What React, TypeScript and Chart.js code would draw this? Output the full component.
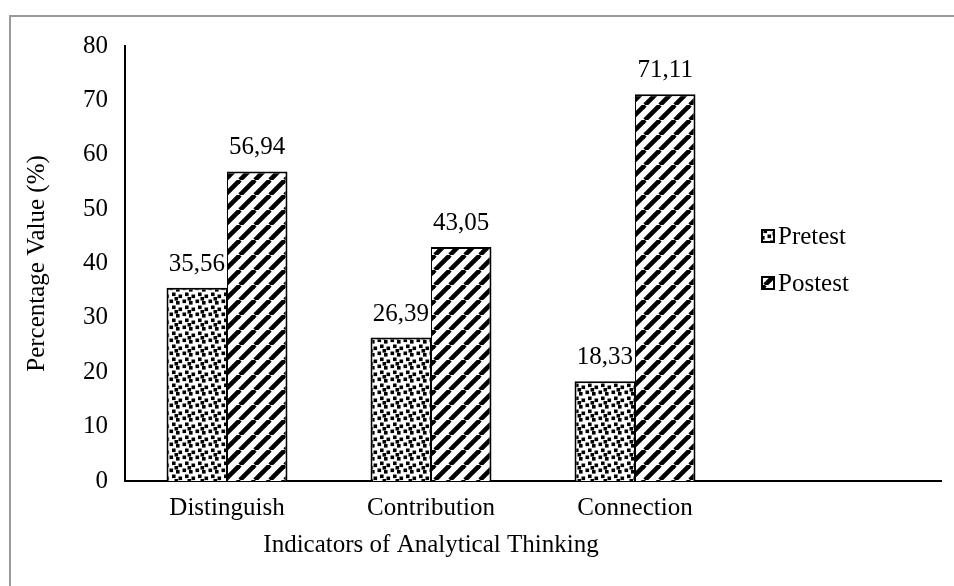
import React, { useEffect, useRef } from 'react';
import { Chart, registerables } from 'chart.js';

Chart.register(...registerables);

// ---- data ----
const categories = ['Distinguish', 'Contribution', 'Connection'];
const seriesNames = ['Pretest', 'Postest'];
const pretestValues = [35.56, 26.39, 18.33];
const postestValues = [56.94, 43.05, 71.11];
const yMin = 0;
const yMax = 80;
const yStep = 10;
const xAxisTitle = 'Indicators of Analytical Thinking';
const yAxisTitle = 'Percentage Value (%)';

const FONT = '"Liberation Serif", "Times New Roman", serif';
const FONT_SIZE = 25;

function makeDotsPattern(ctx: CanvasRenderingContext2D): CanvasPattern | string {
  const s = 13;
  const c = document.createElement('canvas');
  c.width = s;
  c.height = s;
  const g = c.getContext('2d');
  if (!g) return '#888';
  g.fillStyle = '#fff';
  g.fillRect(0, 0, s, s);
  g.fillStyle = '#000';
  const dots = [
    [0.5, 0.5],
    [7, 2],
    [3, 6.5],
    [9.5, 8.5],
    [5.5, 11],
  ];
  dots.forEach(([x, y]) => g.fillRect(x, y, 3.6, 3.6));
  dots.forEach(([x, y]) => {
    if (x + 3.6 > s) g.fillRect(x - s, y, 3.6, 3.6);
    if (y + 3.6 > s) g.fillRect(x, y - s, 3.6, 3.6);
  });
  return ctx.createPattern(c, 'repeat') || '#888';
}

function makeStripePattern(ctx: CanvasRenderingContext2D): CanvasPattern | string {
  const s = 15;
  const c = document.createElement('canvas');
  c.width = s;
  c.height = s;
  const g = c.getContext('2d');
  if (!g) return '#444';
  g.fillStyle = '#fff';
  g.fillRect(0, 0, s, s);
  g.strokeStyle = '#000';
  g.lineWidth = 4.6;
  for (let k = -1; k <= 1; k++) {
    g.beginPath();
    g.moveTo(k * s, s);
    g.lineTo(k * s + s, 0);
    g.stroke();
  }
  return ctx.createPattern(c, 'repeat') || '#444';
}

const fmt = (v: number) => v.toFixed(2).replace('.', ',');

export default function App() {
  const ref = useRef<HTMLCanvasElement | null>(null);

  useEffect(() => {
    const canvas = ref.current;
    if (!canvas) return;
    const ctx = canvas.getContext('2d');
    if (!ctx) return;

    const dots = makeDotsPattern(ctx);
    const stripes = makeStripePattern(ctx);

    const borderPlugin = {
      id: 'outerBorder',
      beforeDraw(chart: any) {
        const c = chart.ctx;
        c.save();
        c.fillStyle = '#fff';
        c.fillRect(0, 0, chart.width, chart.height);
        c.strokeStyle = '#9a9a9a';
        c.lineWidth = 2;
        c.beginPath();
        c.moveTo(10, chart.height + 5);
        c.lineTo(10, 16);
        c.lineTo(chart.width + 5, 16);
        c.stroke();
        c.restore();
      },
    };

    const labelsPlugin = {
      id: 'valueLabels',
      afterDatasetsDraw(chart: any) {
        const c = chart.ctx;
        c.save();
        c.font = `${FONT_SIZE}px ${FONT}`;
        c.fillStyle = '#000';
        c.textAlign = 'center';
        c.textBaseline = 'alphabetic';
        chart.data.datasets.forEach((ds: any, i: number) => {
          const meta = chart.getDatasetMeta(i);
          meta.data.forEach((el: any, j: number) => {
            const v = ds.data[j];
            if (v === undefined || v === null) return;
            c.fillText(fmt(v), el.x, el.y - 17);
          });
        });
        c.restore();
      },
    };

    const legendPlugin = {
      id: 'customLegend',
      afterDraw(chart: any) {
        const c = chart.ctx;
        const lx = 762;
        const ys = [236, 283];
        c.save();
        c.font = `${FONT_SIZE}px ${FONT}`;
        c.textAlign = 'left';
        c.textBaseline = 'middle';
        chart.data.datasets.forEach((ds: any, i: number) => {
          const y = ys[i];
          c.fillStyle = ds.backgroundColor;
          c.fillRect(lx, y - 6, 12, 12);
          c.strokeStyle = '#000';
          c.lineWidth = 2;
          c.strokeRect(lx, y - 6, 12, 12);
          c.fillStyle = '#000';
          c.fillText(ds.label, lx + 16, y + 1);
        });
        c.restore();
      },
    };

    const xTitlePlugin = {
      id: 'xTitle',
      afterDraw(chart: any) {
        const c = chart.ctx;
        const xs = chart.scales.x;
        const cx = (xs.getPixelForValue(0) + xs.getPixelForValue(categories.length - 1)) / 2;
        c.save();
        c.font = `${FONT_SIZE}px ${FONT}`;
        c.fillStyle = '#000';
        c.textAlign = 'center';
        c.textBaseline = 'middle';
        c.fillText(xAxisTitle, cx, 545);
        c.restore();
      },
    };

    const chart = new Chart(ctx, {
      type: 'bar',
      data: {
        labels: [...categories, ''],
        datasets: [
          {
            label: seriesNames[0],
            data: pretestValues,
            backgroundColor: dots as any,
            borderColor: '#000',
            borderWidth: { top: 2, left: 2, right: 1, bottom: 0 } as any,
            borderSkipped: false,
          },
          {
            label: seriesNames[1],
            data: postestValues,
            backgroundColor: stripes as any,
            borderColor: '#000',
            borderWidth: { top: 2, left: 1, right: 2, bottom: 0 } as any,
            borderSkipped: false,
          },
        ],
      },
      options: {
        responsive: false,
        animation: false,
        categoryPercentage: 0.593,
        barPercentage: 1,
        layout: { padding: { left: 0, top: 46, right: 13, bottom: 0 } },
        plugins: {
          legend: { display: false },
          tooltip: { enabled: false },
          title: { display: false },
        },
        scales: {
          x: {
            grid: { display: false, drawTicks: false },
            border: { display: true, color: '#000', width: 2 },
            ticks: {
              color: '#000',
              font: { family: FONT, size: FONT_SIZE },
              padding: 12,
              maxRotation: 0,
              autoSkip: false,
            },
            afterFit(scale: any) {
              scale.height = 105;
            },
          },
          y: {
            min: yMin,
            max: yMax,
            grid: { display: false, drawTicks: false },
            border: { display: true, color: '#000', width: 2 },
            ticks: {
              stepSize: yStep,
              color: '#000',
              font: { family: FONT, size: FONT_SIZE },
              padding: 17,
            },
            title: {
              display: true,
              text: yAxisTitle,
              color: '#000',
              font: { family: FONT, size: FONT_SIZE },
              padding: { top: 22, bottom: 0 },
            },
            afterFit(scale: any) {
              scale.width = 125;
            },
          },
        },
      } as any,
      plugins: [borderPlugin, labelsPlugin, legendPlugin, xTitlePlugin],
    });

    return () => chart.destroy();
  }, []);

  return (
    <canvas
      ref={ref}
      width={954}
      height={586}
      style={{ position: 'fixed', left: 0, top: 0, width: 954, height: 586, display: 'block' }}
    />
  );
}
